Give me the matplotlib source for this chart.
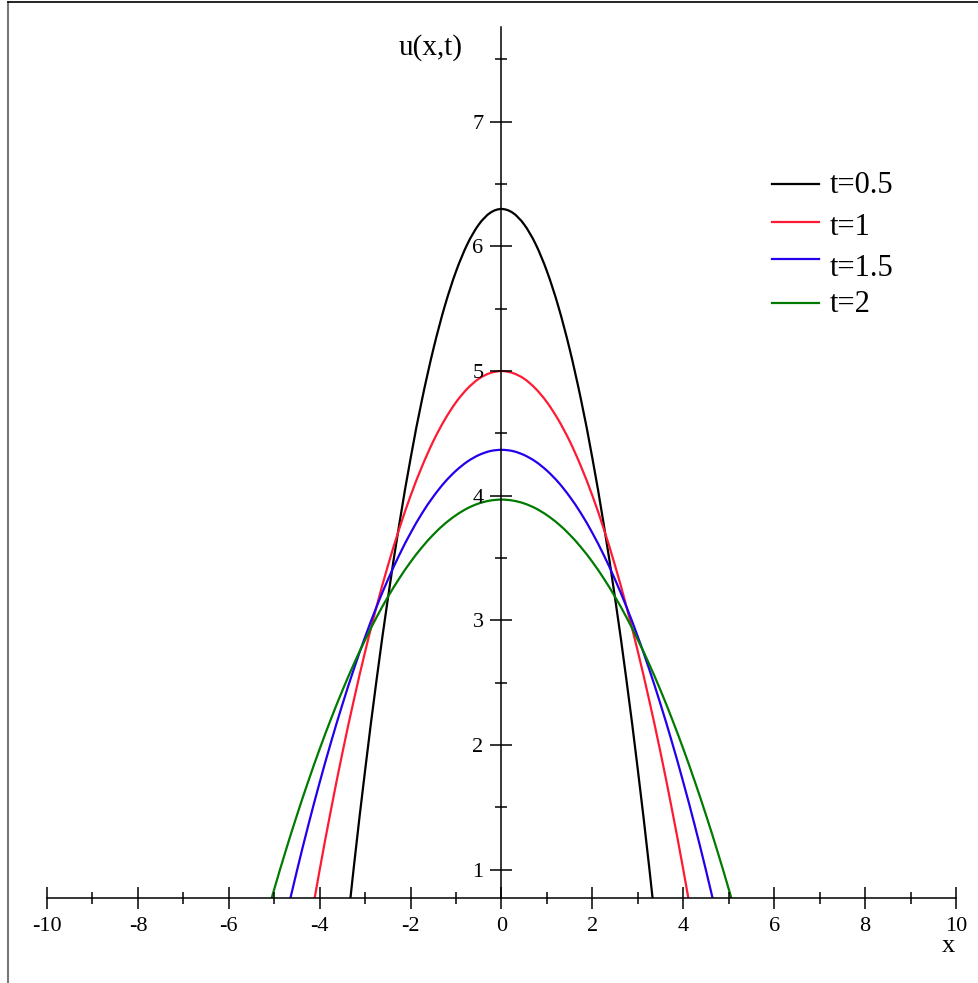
import numpy as np
import matplotlib.pyplot as plt
from matplotlib.lines import Line2D
from matplotlib.path import Path
from matplotlib.patches import PathPatch

# right half of each profile (x >= 0); curves are symmetric about x = 0
x_black = [0, 0.25, 0.5, 0.75, 1, 1.25, 1.5, 1.75, 2, 2.25, 2.5, 2.75, 3, 3.25, 3.5]
u_black = [6.300, 6.269, 6.175, 6.019, 5.800, 5.519, 5.175, 4.769, 4.300, 3.769, 3.175, 2.519,
           1.800, 1.019, 0.175]

x_red = [0, 0.25, 0.5, 0.75, 1, 1.25, 1.5, 1.75, 2, 2.25, 2.5, 2.75, 3, 3.25, 3.5, 3.75, 4, 4.25]
u_red = [5.000, 4.984, 4.938, 4.859, 4.750, 4.609, 4.438, 4.234, 4.000, 3.734, 3.438, 3.109,
         2.750, 2.359, 1.938, 1.484, 1.000, 0.484]

x_blue = [0, 0.25, 0.5, 0.75, 1, 1.25, 1.5, 1.75, 2, 2.25, 2.5, 2.75, 3, 3.25, 3.5, 3.75, 4, 4.25,
          4.5, 4.75]
u_blue = [4.368, 4.358, 4.326, 4.274, 4.201, 4.108, 3.993, 3.858, 3.701, 3.524, 3.326, 3.108,
          2.868, 2.608, 2.326, 2.024, 1.701, 1.358, 0.993, 0.608]

x_green = [0, 0.25, 0.5, 0.75, 1, 1.25, 1.5, 1.75, 2, 2.25, 2.5, 2.75, 3, 3.25, 3.5, 3.75, 4, 4.25,
           4.5, 4.75, 5, 5.25]
u_green = [3.969, 3.961, 3.938, 3.899, 3.844, 3.774, 3.688, 3.586, 3.469, 3.336, 3.188, 3.024,
           2.844, 2.649, 2.438, 2.211, 1.969, 1.711, 1.438, 1.149, 0.844, 0.524]

labels = ['t=0.5', 't=1', 't=1.5', 't=2']
colors = ['black', '#ff1a33', '#2200ee', '#007a00']


def mirror(x, u):
    x = np.asarray(x, dtype=float)
    u = np.asarray(u, dtype=float)
    return np.concatenate([-x[:0:-1], x]), np.concatenate([u[:0:-1], u])


def smooth_path(x, y):
    # cubic Bezier pieces through every sample (Catmull-Rom tangents)
    p = np.column_stack([x, y])
    ext = np.vstack([p[0], p, p[-1]])
    verts = [p[0]]
    codes = [Path.MOVETO]
    for i in range(len(p) - 1):
        p0, p1, p2, p3 = ext[i], ext[i + 1], ext[i + 2], ext[i + 3]
        verts += [p1 + (p2 - p0) / 6, p2 - (p3 - p1) / 6, p2]
        codes += [Path.CURVE4] * 3
    return Path(verts, codes)


plt.rcParams['font.family'] = ['Liberation Serif', 'DejaVu Serif']

W, H = 979, 983
fig = plt.figure(figsize=(W / 100, H / 100), dpi=100)

# axes box in pixel terms
left, right, top, bottom = 47, 956, 27, 898
ax = fig.add_axes([left / W, 1 - bottom / H, (right - left) / W, (bottom - top) / H])
ax.set_xlim(-10, 10)
ax.set_ylim(0.773, 7.76)

curves = [(x_black, u_black), (x_red, u_red), (x_blue, u_blue), (x_green, u_green)]
for (xs, us), c in zip(curves, colors):
    xx, uu = mirror(xs, us)
    ax.add_patch(PathPatch(smooth_path(xx, uu), fill=False, edgecolor=c, lw=1.6))

# axes crossing at the origin-style layout
for s in ['top', 'right']:
    ax.spines[s].set_visible(False)
ax.spines['left'].set_position(('data', 0))
ax.spines['left'].set_linewidth(1.1)
ax.spines['bottom'].set_linewidth(1.1)

ax.set_xticks(np.arange(-10, 11, 2))
ax.set_xticks(np.arange(-10, 11, 1), minor=True)
ax.set_yticks(np.arange(1, 8, 1))
ax.set_yticks(np.arange(1.5, 7.6, 1), minor=True)
ax.set_xticklabels([str(v) for v in range(-10, 11, 2)])
ax.tick_params(which='major', direction='inout', length=16, width=1.1, labelsize=16)
ax.tick_params(which='minor', direction='inout', length=8, width=1.1)
ax.tick_params(axis='x', which='major', pad=6)
ax.tick_params(axis='y', which='major', pad=5)

fig.text(948 / W, 1 - 946 / H, 'x', fontsize=19, ha='center', va='center')
fig.text(431 / W, 1 - 48 / H, 'u(x,t)', fontsize=21, ha='center', va='center')

# legend drawn by hand
line_y = [184, 222, 259, 303]
base_y = [193, 235, 276, 312]
for ly, by, lab, c in zip(line_y, base_y, labels, colors):
    fig.add_artist(Line2D([772 / W, 819 / W], [1 - ly / H, 1 - ly / H],
                          color=c, lw=1.6, transform=fig.transFigure))
    fig.text(830 / W, 1 - by / H, lab, fontsize=22, ha='left', va='baseline')

# outer frame
fig.add_artist(Line2D([8.5 / W, 8.5 / W], [0, 1 - 2 / H], color='#777777', lw=1.5,
                      transform=fig.transFigure))
fig.add_artist(Line2D([8 / W, 1], [1 - 2 / H, 1 - 2 / H], color='black', lw=1.2,
                      transform=fig.transFigure))

fig.savefig('out.png', dpi=100)
